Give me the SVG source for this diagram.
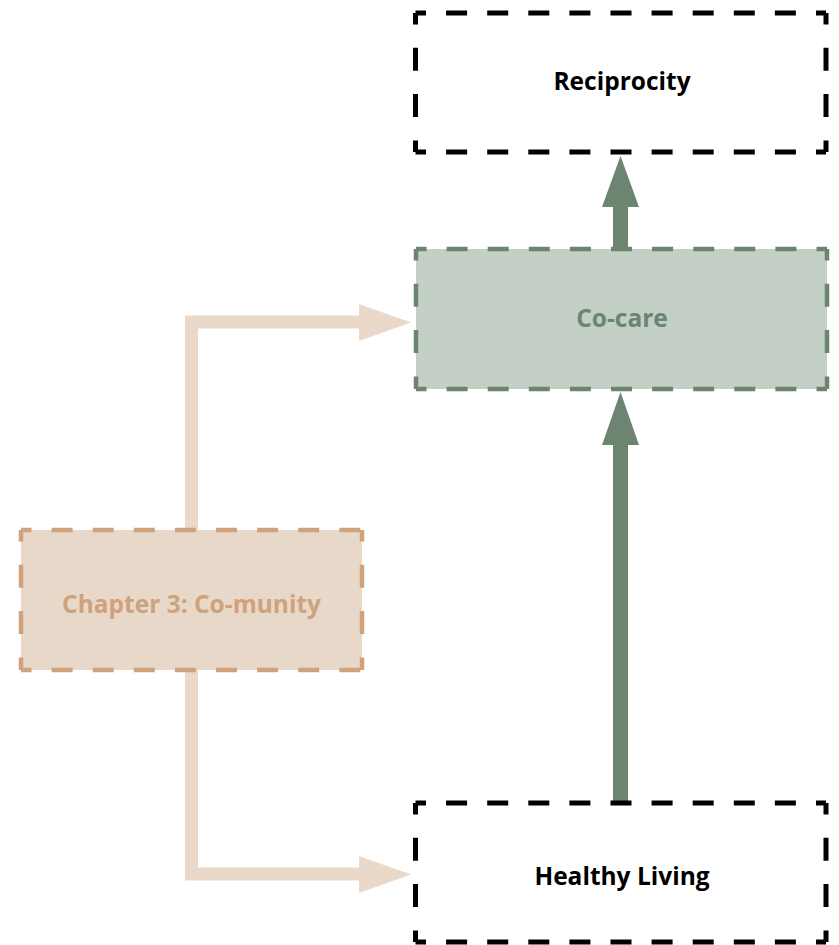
<svg xmlns="http://www.w3.org/2000/svg" width="839" height="945" viewBox="0 0 839 945">
<style>
.lbl{font-family:"Open Sans","Liberation Sans",sans-serif;font-weight:700;font-size:24.5px;text-anchor:middle;dominant-baseline:central}
.blk{stroke:#000;stroke-width:5;fill:none}
.grn{stroke:#6b8571;stroke-width:4.5;fill:none}
.org{stroke:#cfa27b;stroke-width:4.5;fill:none}
.h{stroke-dasharray:21 20.1;stroke-dashoffset:10.5}
.v{stroke-dasharray:23 23.3;stroke-dashoffset:11.5}
</style>
<rect width="839" height="945" fill="#fff"/>
<g id="connectors">
  <path d="M620.5 249 V205" stroke="#6b8571" stroke-width="15" fill="none"/>
  <polygon points="602,207 639,207 620.5,156" fill="#6b8571"/>
  <path d="M620.5 803 V443" stroke="#6b8571" stroke-width="15" fill="none"/>
  <polygon points="602,445 639,445 620.5,392" fill="#6b8571"/>
  <path d="M191.5 530 V322 H362" stroke="#ead8c8" stroke-width="13" fill="none"/>
  <polygon points="359,304 359,341 411,322.5" fill="#ead8c8"/>
  <path d="M191.5 670 V874 H362" stroke="#ead8c8" stroke-width="13" fill="none"/>
  <polygon points="359,856 359,893 411,874.5" fill="#ead8c8"/>
</g>
<g id="reciprocity">
  <rect x="415.5" y="13" width="410.5" height="139" fill="#fff"/>
  <line class="blk h" x1="415.5" y1="13" x2="826" y2="13"/>
  <line class="blk h" x1="415.5" y1="152" x2="826" y2="152"/>
  <line class="blk v" x1="415.5" y1="13" x2="415.5" y2="152"/>
  <line class="blk v" x1="826" y1="13" x2="826" y2="152"/>
  <text class="lbl" x="622" y="80" fill="#000">Reciprocity</text>
</g>
<g id="co-care">
  <rect x="416" y="249" width="411" height="140" fill="#c4cfc6"/>
  <line class="grn h" x1="416" y1="249" x2="827" y2="249"/>
  <line class="grn h" x1="416" y1="389" x2="827" y2="389"/>
  <line class="grn v" x1="416" y1="249" x2="416" y2="389"/>
  <line class="grn v" x1="827" y1="249" x2="827" y2="389"/>
  <text class="lbl" x="622" y="317" fill="#6b8571">Co-care</text>
</g>
<g id="chapter3">
  <rect x="21" y="530" width="341" height="140" fill="#e8d8ca"/>
  <line class="org h" x1="21" y1="530" x2="362" y2="530"/>
  <line class="org h" x1="21" y1="670" x2="362" y2="670"/>
  <line class="org v" x1="21" y1="530" x2="21" y2="670"/>
  <line class="org v" x1="362" y1="530" x2="362" y2="670"/>
  <text class="lbl" x="191.5" y="603" fill="#cfa27b">Chapter 3: Co-munity</text>
</g>
<g id="healthy-living">
  <rect x="415.5" y="803" width="410.5" height="139" fill="#fff"/>
  <line class="blk h" x1="415.5" y1="803" x2="826" y2="803"/>
  <line class="blk h" x1="415.5" y1="942" x2="826" y2="942"/>
  <line class="blk v" x1="415.5" y1="803" x2="415.5" y2="942"/>
  <line class="blk v" x1="826" y1="803" x2="826" y2="942"/>
  <text class="lbl" x="622" y="875" fill="#000">Healthy Living</text>
</g>
</svg>
